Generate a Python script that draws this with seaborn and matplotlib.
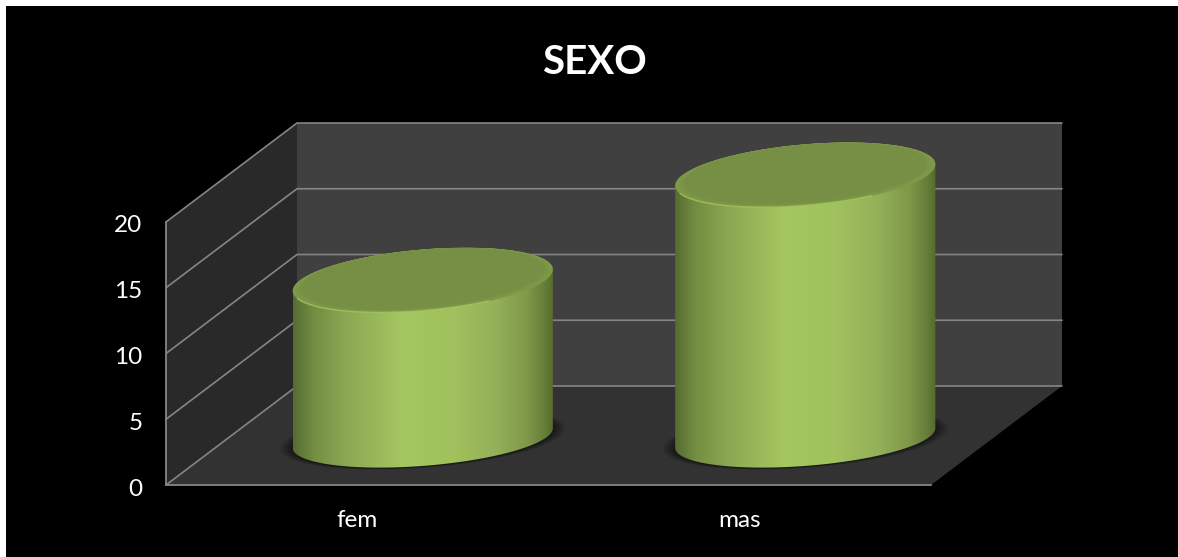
import numpy as np
import matplotlib
matplotlib.use("Agg")
import matplotlib.pyplot as plt
from matplotlib.colors import LinearSegmentedColormap
from matplotlib.patches import Polygon, Rectangle
from matplotlib.transforms import Affine2D, ScaledTranslation
import seaborn as sns

categories = ["fem", "mas"]
values = [12, 20]
y_ticks = [0, 5, 10, 15, 20]
title = "SEXO"

sns.set_theme(style="white")
plt.rcParams["font.family"] = ["Lato", "DejaVu Sans"]

W, H = 1178, 557
fig = plt.figure(figsize=(W / 100, H / 100), dpi=100, facecolor="white")
fig.patches.append(Rectangle((6 / W, 0), 1, 1 - 6 / H, transform=fig.transFigure,
                             facecolor="black", edgecolor="none", zorder=-10))
ax = fig.add_axes([166 / W, 1 - 485 / H, (931 - 166) / W, (485 - 222) / H])
ax.patch.set_visible(False)

sns.barplot(x=categories, y=values, width=0.642, color="#8ca652", ax=ax,
            saturation=1, zorder=3, edgecolor="none", linewidth=0)
ax.set_xlim(-0.5, 1.5)
ax.set_ylim(0, 20)
bars = [p for p in ax.patches if isinstance(p, Rectangle)]

# oblique depth of the 3-D box, in data units
DX = 131 / 382.5
DY = 99 / 13.15
DEPTH = 0.657
BASE_Y = 47 / 13.15
x0, x1 = ax.get_xlim()
y0, y1 = ax.get_ylim()

GRID = "#858585"
ax.add_patch(Polygon([(x0 + DX, y0 + DY), (x1 + DX, y0 + DY), (x1 + DX, y1 + DY), (x0 + DX, y1 + DY)],
                     fc="#404040", ec="none", zorder=0, clip_on=False))
ax.add_patch(Polygon([(x0, y0), (x0 + DX, y0 + DY), (x0 + DX, y1 + DY), (x0, y1)],
                     fc="#292929", ec="none", zorder=0, clip_on=False))
ax.add_patch(Polygon([(x0, y0), (x1, y0), (x1 + DX, y0 + DY), (x0 + DX, y0 + DY)],
                     fc="#323232", ec="none", zorder=0, clip_on=False))
for v in y_ticks:
    ax.plot([x0, x0 + DX, x1 + DX], [v, v + DY, v + DY], color=GRID, lw=1.2,
            zorder=1, clip_on=False, solid_joinstyle="miter")

cmap = LinearSegmentedColormap.from_list("cyl", [
    (0.00, "#566c30"), (0.03, "#627a38"), (0.08, "#748e43"), (0.20, "#8ba752"),
    (0.42, "#a5c760"), (0.62, "#a0c15d"), (0.78, "#94b058"), (0.90, "#7f9849"),
    (0.97, "#647c38"), (1.00, "#566b2e")])
grad = np.linspace(0, 1, 256)[None, :]


def ellipse(cx, cy, a, bx, by, t):
    return np.column_stack([cx + a * np.cos(t) + bx * np.sin(t), cy + by * np.sin(t)])


for bar, value in zip(bars, values):
    cx = bar.get_x() + bar.get_width() / 2 + DX / 2
    a = bar.get_width() / 2
    bx = DEPTH * DX / 2
    by = DEPTH * DY / 2
    by_low = by * 0.91
    top = BASE_Y + bar.get_height()
    bar.set_transform(Affine2D().translate(DX / 2, BASE_Y) + ax.transData)
    bar.set_clip_on(False)

    # contact shadow on the floor
    t = np.linspace(0, 2 * np.pi, 200)
    for s in np.linspace(1.10, 1.0, 14):
        ax.add_patch(Polygon(ellipse(cx, BASE_Y - 0.04, a * s, bx * s, by_low * (s * 0.5 + 0.5), t),
                             fc="black", ec="none", alpha=0.035, zorder=2, clip_on=False))

    # body of the cylinder
    t0 = np.arctan2(bx, a)
    low = ellipse(cx, BASE_Y, a, bx, by_low, np.linspace(t0 + np.pi, t0 + 2 * np.pi, 120))
    upp = ellipse(cx, top, a, bx, by, np.linspace(t0, t0 + np.pi, 120))
    body = Polygon(np.vstack([low, upp]), fc="none", ec="none", zorder=3, clip_on=False)
    ax.add_patch(body)
    half = np.hypot(a, bx)
    img = ax.imshow(grad, cmap=cmap, aspect="auto", zorder=4, interpolation="bilinear",
                    extent=(cx - half, cx + half, BASE_Y - by, top + by))
    img.set_clip_box(fig.bbox)
    img.set_clip_path(body)

    # bevelled top face
    ring = ellipse(cx, top, a, bx, by, t)
    ax.add_patch(Polygon(ring, fc="#7f9b4a", ec="none", zorder=5, clip_on=False))
    for s, c in zip(np.linspace(0.99, 0.93, 7),
                    ["#7e9a49", "#7d9948", "#7c9747", "#7b9547", "#7a9346", "#799146", "#778e45"]):
        ax.add_patch(Polygon(ellipse(cx, top + 0.11 * (1 - s) / 0.07, a * s, bx * s, by * s, t),
                             fc=c, ec="none", zorder=5.5, clip_on=False))
    arc = ellipse(cx, top, a, bx, by * 0.99, np.linspace(np.radians(215), np.radians(320), 80))
    ax.plot(arc[:, 0], arc[:, 1], color="#a8cc66", lw=1.0, alpha=0.7, zorder=6, clip_on=False)

ax.set_xlim(x0, x1)
ax.set_ylim(y0, y1)
ax.set_yticks(y_ticks)
ax.set_ylabel("")
ax.tick_params(axis="y", length=0, pad=17, labelsize=17.5, labelcolor="white")
ax.tick_params(axis="x", length=0, pad=18, labelsize=17.5, labelcolor="white")
down = ScaledTranslation(0, -2 / 100, fig.dpi_scale_trans)
for lab in ax.get_yticklabels():
    lab.set_transform(lab.get_transform() + down)
for name, sp in ax.spines.items():
    sp.set_visible(name in ("left", "bottom"))
    sp.set_color(GRID)
    sp.set_linewidth(1.3)
    sp.set_zorder(1.5)

fig.text(594 / W, 1 - 62 / H, title, color="white", fontsize=29, fontweight="bold",
         ha="center", va="center")
fig.savefig("out.png", dpi=100, facecolor="white")
